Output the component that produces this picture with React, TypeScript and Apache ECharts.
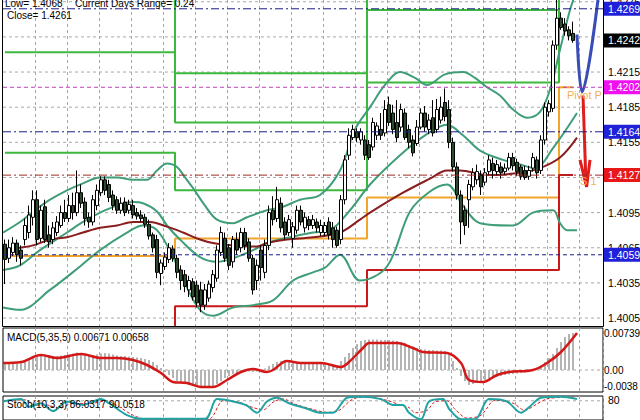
import { useEffect, useRef } from "react";
import * as echarts from "echarts";

// ---------- data ----------
const SLOTS = 150; // 30-minute slots on the x axis (last ones are empty, future)
const dayStart = [0, 43, 91, 139];
const pivotP = [1.4058, 1.4073, 1.4108, 1.4202];
const pivotR1 = [1.4146, 1.4114, 1.4206, 1.4336];
const pivotR2 = [1.4232, 1.4172, 1.4268, 1.4411];
const pivotR3 = [1.432, 1.4214, 1.4366, 1.4545];
const pivotS1 = [1.3972, 1.4015, 1.4046, 1.4127];

// [open, close, low, high]
const candles = [
  [1.4068, 1.4055, 1.4034, 1.4072], [1.4056, 1.4065, 1.4052, 1.4072], [1.4061, 1.4069, 1.4058, 1.4074],
  [1.4069, 1.4059, 1.4053, 1.4072], [1.4063, 1.4056, 1.405, 1.4067], [1.4072, 1.4084, 1.4067, 1.409],
  [1.4078, 1.4093, 1.4073, 1.4101], [1.4091, 1.4106, 1.4084, 1.4114], [1.4106, 1.4072, 1.4067, 1.4114],
  [1.4073, 1.4097, 1.407, 1.4101], [1.41, 1.4072, 1.4069, 1.4106], [1.4076, 1.407, 1.4065, 1.4084],
  [1.4072, 1.4082, 1.4068, 1.4087], [1.4078, 1.4087, 1.4075, 1.4092], [1.4084, 1.4095, 1.4082, 1.4101],
  [1.4095, 1.409, 1.4087, 1.4106], [1.409, 1.4101, 1.4087, 1.411], [1.4101, 1.4095, 1.4089, 1.4112],
  [1.4095, 1.4112, 1.4092, 1.4131], [1.4112, 1.4103, 1.4099, 1.4119], [1.4104, 1.409, 1.4084, 1.4108],
  [1.4091, 1.4087, 1.4082, 1.4095], [1.4087, 1.4106, 1.4084, 1.411], [1.4101, 1.4114, 1.4097, 1.4119],
  [1.4112, 1.4123, 1.4109, 1.4126], [1.4123, 1.4114, 1.411, 1.4126], [1.4119, 1.4108, 1.4104, 1.4123],
  [1.411, 1.4101, 1.4097, 1.4114], [1.4106, 1.4097, 1.4094, 1.4109], [1.4097, 1.4103, 1.4094, 1.4108],
  [1.4104, 1.4095, 1.4092, 1.4108], [1.4097, 1.4102, 1.4094, 1.4106], [1.4101, 1.4093, 1.409, 1.4106],
  [1.4095, 1.4092, 1.4089, 1.4099], [1.4093, 1.409, 1.4087, 1.4097], [1.4091, 1.4085, 1.4082, 1.4094],
  [1.4085, 1.4075, 1.4072, 1.4089], [1.4076, 1.4065, 1.4061, 1.4078], [1.4072, 1.4044, 1.4039, 1.4076],
  [1.4043, 1.4052, 1.4033, 1.4055], [1.4049, 1.4057, 1.4046, 1.4061], [1.4055, 1.4065, 1.4052, 1.4069],
  [1.4064, 1.4056, 1.4053, 1.4067],
  // day B
  [1.4056, 1.4044, 1.4039, 1.4059], [1.4046, 1.4037, 1.4029, 1.405], [1.4042, 1.4032, 1.4027, 1.4046],
  [1.4029, 1.4037, 1.4023, 1.4041], [1.4036, 1.4023, 1.402, 1.4039], [1.4033, 1.4018, 1.4014, 1.4037],
  [1.4029, 1.4016, 1.401, 1.4036], [1.4016, 1.4029, 1.4012, 1.4034], [1.4022, 1.4034, 1.4019, 1.4037],
  [1.4031, 1.4042, 1.4027, 1.4046], [1.4039, 1.4063, 1.4036, 1.4067], [1.4061, 1.4078, 1.4058, 1.4083],
  [1.4073, 1.4056, 1.4053, 1.4078], [1.4065, 1.405, 1.4046, 1.4068], [1.4053, 1.4072, 1.4048, 1.4075],
  [1.4072, 1.4063, 1.4059, 1.4078], [1.4065, 1.4078, 1.4061, 1.4082], [1.4078, 1.4067, 1.4063, 1.4082],
  [1.407, 1.4056, 1.4053, 1.4073], [1.4056, 1.4029, 1.4025, 1.4059], [1.4037, 1.405, 1.4029, 1.4055],
  [1.4063, 1.4048, 1.4037, 1.4067], [1.4044, 1.4067, 1.4039, 1.4072], [1.4067, 1.4095, 1.4063, 1.4101],
  [1.4097, 1.4089, 1.4084, 1.4109], [1.409, 1.4106, 1.4087, 1.4117], [1.4103, 1.4082, 1.4078, 1.4108],
  [1.4087, 1.4076, 1.4072, 1.4091], [1.4078, 1.4089, 1.4075, 1.4093], [1.4073, 1.4083, 1.4065, 1.4087],
  [1.408, 1.4097, 1.4077, 1.4101], [1.4097, 1.4087, 1.4084, 1.4101], [1.4082, 1.4091, 1.4078, 1.4095],
  [1.4089, 1.4084, 1.408, 1.4092], [1.4084, 1.4089, 1.4081, 1.4093], [1.4087, 1.4082, 1.4078, 1.409],
  [1.4078, 1.4084, 1.4075, 1.4089], [1.4078, 1.4084, 1.4075, 1.4087], [1.4087, 1.4076, 1.4072, 1.4091],
  [1.4082, 1.4072, 1.4065, 1.4087], [1.408, 1.4067, 1.4065, 1.4083], [1.4072, 1.4106, 1.4068, 1.411],
  [1.4106, 1.414, 1.4102, 1.4144], [1.4144, 1.4161, 1.414, 1.4167], [1.4159, 1.4166, 1.4157, 1.417],
  [1.4164, 1.4159, 1.4155, 1.4167], [1.4157, 1.4164, 1.4153, 1.4167], [1.4157, 1.4144, 1.414, 1.4161],
  // day C
  [1.4153, 1.4142, 1.414, 1.4157], [1.4151, 1.4172, 1.4148, 1.4176], [1.4161, 1.4169, 1.4157, 1.4172],
  [1.4166, 1.4161, 1.4157, 1.418], [1.4163, 1.4183, 1.416, 1.4191], [1.4187, 1.4172, 1.4169, 1.4194],
  [1.418, 1.4166, 1.4162, 1.4187], [1.4172, 1.4159, 1.4155, 1.4191], [1.4168, 1.4183, 1.4164, 1.4188],
  [1.418, 1.4159, 1.4157, 1.4184], [1.4166, 1.4155, 1.415, 1.417], [1.4157, 1.4146, 1.4143, 1.4161],
  [1.4154, 1.4168, 1.4152, 1.4174], [1.4168, 1.418, 1.4166, 1.4184], [1.418, 1.4168, 1.4164, 1.4186],
  [1.4166, 1.4174, 1.4162, 1.4179], [1.4176, 1.4163, 1.416, 1.4191], [1.4166, 1.4183, 1.4163, 1.4192],
  [1.4174, 1.4185, 1.4171, 1.4194], [1.4189, 1.4177, 1.4173, 1.4201], [1.4183, 1.4155, 1.415, 1.4191],
  [1.4155, 1.4134, 1.413, 1.4159], [1.4134, 1.411, 1.4106, 1.4138], [1.411, 1.4087, 1.4068, 1.4114],
  [1.4097, 1.4084, 1.4076, 1.4101], [1.4106, 1.4119, 1.4082, 1.4123], [1.4117, 1.4129, 1.4114, 1.4133],
  [1.4123, 1.413, 1.4119, 1.4136], [1.4127, 1.4117, 1.411, 1.4131], [1.4121, 1.4129, 1.4118, 1.4133],
  [1.413, 1.414, 1.4127, 1.4144], [1.4137, 1.4131, 1.4124, 1.4142], [1.413, 1.4136, 1.4127, 1.414],
  [1.4134, 1.4129, 1.4124, 1.4138], [1.413, 1.4133, 1.4127, 1.4137], [1.4133, 1.4142, 1.4131, 1.4146],
  [1.4142, 1.4135, 1.4131, 1.4146], [1.4138, 1.413, 1.4126, 1.4141], [1.4134, 1.4126, 1.4123, 1.4136],
  [1.4131, 1.4125, 1.4123, 1.4135], [1.4126, 1.4131, 1.4123, 1.4135], [1.4133, 1.4142, 1.413, 1.4146],
  [1.414, 1.4129, 1.4124, 1.4143], [1.4131, 1.4157, 1.4128, 1.4161], [1.4157, 1.4185, 1.4153, 1.4189],
  [1.4181, 1.4188, 1.4177, 1.4191], [1.4184, 1.4238, 1.4181, 1.4242], [1.4238, 1.4261, 1.4234, 1.4277],
  // day D
  [1.4261, 1.4253, 1.4251, 1.4266], [1.4256, 1.425, 1.4246, 1.4261], [1.4251, 1.4246, 1.4242, 1.4254],
  [1.4248, 1.4242, 1.424, 1.4258],
];

// moving average and bands, read at points [slot, price]
const maLine = [
  [-0.5, 1.4063], [3.75, 1.4065], [7, 1.4067], [11.25, 1.4072], [15.5, 1.4074], [19.5, 1.4078], [23.75, 1.4082],
  [28, 1.4084], [32, 1.4087], [36.25, 1.4087], [40.5, 1.4083], [44.5, 1.4078], [48.75, 1.4072], [52, 1.4069],
  [57, 1.4067], [63, 1.4066], [65.5, 1.4069], [70.5, 1.4072], [77, 1.4074], [83.75, 1.4078], [88.75, 1.4089],
  [91.25, 1.4095], [99.5, 1.4112], [106.25, 1.4124], [110.5, 1.4131], [113.75, 1.4131], [120.5, 1.4127],
  [128.75, 1.4129], [133.75, 1.4133], [138.75, 1.4142], [143, 1.4159],
];
const bandUpper = [
  [-0.5, 1.4078], [3.75, 1.4087], [7.5, 1.4097], [11.25, 1.4106], [15.5, 1.4114], [19.5, 1.412], [23.75, 1.4125],
  [28, 1.4125], [32, 1.4123], [35.5, 1.4123], [38, 1.4131], [40.5, 1.4137], [43, 1.4134], [45, 1.4125],
  [47, 1.4116], [50, 1.4101], [53, 1.4089], [57, 1.4086], [60.5, 1.4091], [65.5, 1.4097], [69.5, 1.41],
  [73.75, 1.4106], [78.75, 1.411], [83.75, 1.4131], [87.5, 1.4166], [91.25, 1.4185], [95, 1.4204],
  [98.75, 1.4215], [102.5, 1.421], [105.5, 1.4204], [110, 1.4213], [114.5, 1.4215], [117.5, 1.421],
  [120.5, 1.4202], [123.75, 1.4195], [127, 1.4183], [130.5, 1.4176], [133.75, 1.4181], [136.25, 1.42],
  [138.75, 1.4234], [141.25, 1.4268], [143, 1.4285],
];
const bandMiddle = [
  [-0.5, 1.4046], [3.75, 1.405], [8.75, 1.4063], [15.5, 1.4078], [19.5, 1.4087], [23.75, 1.4095], [28, 1.4101],
  [32, 1.4104], [34.5, 1.4103], [38, 1.4096], [40.5, 1.4084], [43.75, 1.4072], [48.75, 1.4057], [53, 1.4053],
  [57, 1.4056], [62, 1.4063], [65.5, 1.4069], [71.25, 1.4074], [77, 1.4078], [81.25, 1.408], [86.25, 1.4097],
  [91.25, 1.4119], [98.75, 1.4144], [105, 1.4161], [110.5, 1.417], [114.5, 1.4161], [118.75, 1.4148],
  [124.5, 1.414], [128.75, 1.4136], [132.5, 1.4133], [137, 1.415], [143, 1.418],
];
const bandLower = [
  [-0.5, 1.4014], [3.75, 1.4012], [11.25, 1.4029], [18.75, 1.4049], [23.75, 1.4063], [30.5, 1.4078],
  [34.5, 1.4084], [38, 1.408], [42, 1.4057], [45.5, 1.4031], [48.75, 1.4012], [52, 1.4007], [57, 1.4014],
  [62, 1.4016], [67, 1.402], [72, 1.4037], [77, 1.4044], [80, 1.4048], [83.75, 1.4059], [88.75, 1.4037],
  [95.5, 1.4049], [101.25, 1.4096], [106.25, 1.4113], [110.5, 1.4119], [114.5, 1.4101], [118.75, 1.4086],
  [127, 1.4084], [132, 1.4095], [137, 1.4097], [138.75, 1.4086], [140.5, 1.408], [143, 1.408],
];

// projection arrows drawn by the analyst: [slot, price]
const blueProjection = [[143, 1.4247], [144.25, 1.4198], [148.5, 1.4284]];
const redProjection = [[144.5, 1.4195], [145.25, 1.4119]];
const redArrowHead = [[143.75, 1.414], [145.4, 1.4117], [146.25, 1.414]];

// price grid, tick labels and level boxes
const priceTicks = [1.4005, 1.4035, 1.4065, 1.4095, 1.4125, 1.4155, 1.4185, 1.4215, 1.4245, 1.4275];
const levelValues = [1.4269, 1.4242, 1.4202, 1.4164, 1.4127, 1.4059];
const levelBoxColors = ["#2020d8", "#000000", "#ee10ee", "#2020d8", "#e81818", "#2020d8"];
const levelLineColors = ["#1c1c8a", "#000000", "#c040c0", "#1c1c8a", "#a02828", "#1c1c8a"];
const levelLineOpacity = [1, 0, 1, 1, 1, 1];
const levelDash = [[8, 3, 2, 3], [4, 4], [4, 3], [8, 3, 2, 3], [8, 3, 2, 3], [4, 3]];

// MACD(5,35,5)
const macdHist = [
  0.0012, 0.0013, 0.0012, 0.0013, 0.0014, 0.0016, 0.002,
  0.0024, 0.0028, 0.003, 0.0031, 0.003, 0.0028, 0.0028,
  0.0029, 0.003, 0.0031, 0.0033, 0.0035, 0.0034, 0.0032, 0.003, 0.003, 0.0031,
  0.0033, 0.0034, 0.0033, 0.0031, 0.0029, 0.0028, 0.0028, 0.0027,
  0.0026, 0.0025, 0.0024, 0.0022, 0.002, 0.0016, 0.001,
  0.0004, -0.0004, -0.001, -0.0016, -0.0022,
  -0.0026, -0.0028, -0.003, -0.0031, -0.0032, -0.0033, -0.0034, -0.0033, -0.0032, -0.0028,
  -0.0022, -0.0016, -0.0012, -0.0008, -0.0006, -0.0004, -0.0003, -0.0003,
  -0.0004, -0.0003, 0.0, 0.0003, 0.0008, 0.0012,
  0.0016, 0.0018, 0.0019, 0.0018, 0.0016, 0.0015,
  0.0014, 0.0013, 0.0013, 0.0012, 0.0012, 0.0012, 0.0011, 0.0011, 0.001, 0.001,
  0.0018, 0.0026, 0.0034, 0.0044, 0.0052,
  0.0058, 0.006, 0.0061, 0.0061, 0.0061, 0.006, 0.006, 0.006, 0.0059, 0.0058,
  0.0056, 0.0054, 0.005, 0.0047, 0.0044, 0.0042, 0.0041, 0.004, 0.004, 0.0039, 0.0039, 0.0038,
  0.003, 0.0018, 0.0004, -0.0012, -0.0022, -0.003,
  -0.0028, -0.0024, -0.0022, -0.002, -0.0018,
  -0.0016, -0.0014, -0.0012, -0.001, -0.0009, -0.0008, -0.0007, -0.0006, -0.0005, -0.0004,
  -0.0002, 0.0, 0.0008, 0.0016, 0.0024, 0.0032, 0.0044,
  0.0056, 0.0066, 0.0072, 0.0074,
];
const macdSignal = [
  [-0.5, 0.0014], [4, 0.0016], [9, 0.003], [13, 0.0024], [19, 0.0032], [24, 0.0024], [28, 0.0024], [32, 0.002],
  [35.5, 0.001], [39, -0.0006], [42, -0.0024], [45.5, -0.0026], [49, -0.0034], [52, -0.0034], [55.5, -0.002],
  [59, -0.0004], [62, 0.0002], [65.5, -0.0004], [67, 0.0], [70.5, 0.0018], [74, 0.0014], [79, 0.0014],
  [84, 0.0006], [86, 0.0016], [89.5, 0.0044], [91, 0.0054], [98, 0.0054], [102, 0.0044], [104.5, 0.0036],
  [110.5, 0.0034], [114, 0.0014], [116, -0.002], [119.5, -0.0024], [123, -0.001], [126, -0.0004], [132, 0.0],
  [135.5, 0.0014], [139, 0.0036], [143, 0.0074],
];
const macdScale = [0.00739, 0.0, -0.0038];
const macdScaleText = ["0.00739", "0.00", "-0.0038"];

// Stochastic(10,3,3)
const stochMain = [
  [-0.5, 77], [4, 87], [6, 55], [9, 70], [12, 37], [15.5, 77], [19.5, 63], [24, 87], [26, 70], [30.5, 20],
  [34, 5], [50, 5], [53, 87], [57, 77], [60.5, 60], [63, 30], [65.5, 77], [68, 93], [71, 70], [75.5, 47],
  [79, 30], [82, 30], [85.5, 93], [89, 97], [94, 87], [97, 63], [99.5, 63], [101, 30], [104, 3], [106, 77],
  [109.5, 87], [111, 47], [114, 3], [117.5, 3], [121, 87], [125.5, 77], [129, 30], [131, 53], [134, 93],
  [139, 97], [143, 87],
];
const stochSignal = [
  [-0.5, 80], [5, 84], [7.5, 62], [10.5, 62], [13.5, 48], [17, 70], [21, 68], [25.5, 80], [28, 60], [32, 20],
  [35, 5], [51, 5], [54.5, 80], [58.5, 74], [62, 52], [64.5, 42], [67, 74], [69.5, 88], [72.5, 66], [77, 44],
  [80.5, 32], [83.5, 40], [87, 88], [90.5, 95], [95.5, 82], [98.5, 64], [101, 52], [102.5, 30], [105.5, 40],
  [107.5, 76], [110.5, 80], [112.5, 45], [115.5, 8], [119, 20], [122.5, 82], [127, 70], [130, 40],
  [132.5, 62], [135.5, 88], [140, 94], [143, 90],
];
const stochLevel = 80;

// ---------- helpers ----------
const FONT = '"Liberation Sans", Arial, sans-serif';
const categories = Array.from({ length: SLOTS }, (_, i) => String(i));
const X0 = -0.5;
const X1 = SLOTS - 0.5;

function dayOf(i: number) {
  let d = 0;
  for (let k = 0; k < dayStart.length; k++) if (i >= dayStart[k]) d = k;
  return d;
}
function stepSeries(levels: number[]) {
  return candles.map((_, i) => levels[dayOf(i)]);
}
// a tick label is hidden when a price box sits right on it (as in the terminal)
function tickCovered(v: number) {
  return levelValues.some((l) => Math.abs(l - v) < 0.0004);
}
const gridSplit = {
  show: true,
  interval: (index: number) => index > 0 && index % 8 === 0,
  lineStyle: { color: "#a8a8a8", type: [3, 3] as any, width: 1 },
};

function hLine(
  value: number,
  xAxisIndex: number,
  yAxisIndex: number,
  line: { color: string; type: any; opacity: number },
  text: string,
  label: any,
  z: number
) {
  return {
    type: "line",
    xAxisIndex,
    yAxisIndex,
    data: [[X0, value], [X1, value]],
    symbol: "none",
    silent: true,
    z,
    lineStyle: { color: line.color, type: line.type, width: 1, opacity: line.opacity },
    endLabel: {
      show: text !== "",
      formatter: () => text,
      fontSize: 10.5,
      fontFamily: FONT,
      align: "left",
      ...label,
    },
  };
}

function makeOption(): any {
  const catAxis = (gridIndex: number) => ({
    type: "category",
    gridIndex,
    data: categories,
    boundaryGap: true,
    axisLine: { show: false },
    axisTick: { show: false },
    axisLabel: { show: false },
    splitLine: gridSplit,
  });
  const valAxis = (gridIndex: number) => ({
    type: "value",
    gridIndex,
    min: X0,
    max: X1,
    show: false,
    splitLine: { show: false },
  });
  const pivotLine = (levels: number[], color: string) => ({
    type: "line",
    xAxisIndex: 0,
    yAxisIndex: 0,
    data: stepSeries(levels),
    step: "middle",
    symbol: "none",
    lineStyle: { color, width: 2 },
    z: 3,
    silent: true,
  });
  const overlay = (data: number[][], color: string, width: number, z = 4) => ({
    type: "line",
    xAxisIndex: 1,
    yAxisIndex: 0,
    data,
    smooth: 0.35,
    symbol: "none",
    lineStyle: { color, width },
    z,
    silent: true,
  });

  const gridLines = priceTicks.map((v) =>
    hLine(
      v,
      1,
      0,
      { color: "#a8a8a8", type: [3, 3], opacity: 1 },
      tickCovered(v) ? "" : v.toFixed(4),
      { color: "#000", distance: 5 },
      1
    )
  );
  const levelLines = levelValues.map((v, k) =>
    hLine(
      v,
      1,
      0,
      { color: levelLineColors[k], type: levelDash[k], opacity: levelLineOpacity[k] },
      v.toFixed(4),
      { color: "#fff", backgroundColor: levelBoxColors[k], padding: [2, 4, 1, 4], distance: 1 },
      8
    )
  );
  const macdLines = macdScale.map((v, k) =>
    hLine(
      v,
      3,
      1,
      { color: "#a8a8a8", type: [3, 3], opacity: v === 0 ? 1 : 0 },
      macdScaleText[k],
      { color: "#000", distance: 1, fontSize: 10, offset: v < 0 ? [0, -3] : [0, 0] },
      2
    )
  );
  const stochLine = hLine(
    stochLevel,
    5,
    2,
    { color: "#a8a8a8", type: [3, 3], opacity: 1 },
    String(stochLevel),
    { color: "#000", distance: 5, offset: [0, -1] },
    2
  );

  return {
    animation: false,
    backgroundColor: "#ffffff",
    textStyle: { fontFamily: FONT },
    grid: [
      { left: 3, top: 0, width: 600, height: 326, show: false },
      { left: 3, top: 328, width: 600, height: 64, show: true, borderColor: "#000", borderWidth: 1, backgroundColor: "transparent" },
      { left: 3, top: 396, width: 600, height: 30, show: true, borderColor: "#000", borderWidth: 1, backgroundColor: "transparent" },
    ],
    xAxis: [catAxis(0), valAxis(0), catAxis(1), valAxis(1), catAxis(2), valAxis(2)],
    yAxis: [
      { type: "value", gridIndex: 0, min: 1.39982, max: 1.42765, show: false, splitLine: { show: false } },
      { type: "value", gridIndex: 1, min: -0.0044, max: 0.0084, show: false, splitLine: { show: false } },
      { type: "value", gridIndex: 2, min: 0, max: 100, show: false, splitLine: { show: false } },
    ],
    series: [
      ...gridLines,
      pivotLine(pivotR3, "#3cb93c"),
      pivotLine(pivotR2, "#3cb93c"),
      pivotLine(pivotR1, "#3cb93c"),
      pivotLine(pivotP, "#f2a52a"),
      pivotLine(pivotS1, "#c81818"),
      overlay(bandUpper, "#3f9e78", 2),
      overlay(bandMiddle, "#3f9e78", 2),
      overlay(bandLower, "#3f9e78", 2),
      overlay(maLine, "#8a1e1e", 2),
      {
        type: "candlestick",
        xAxisIndex: 0,
        yAxisIndex: 0,
        data: candles,
        barWidth: 3,
        z: 5,
        silent: true,
        itemStyle: {
          color: "#ffffff",
          color0: "#2c4a2c",
          borderColor: "#000000",
          borderColor0: "#000000",
          borderWidth: 1,
        },
      },
      overlay(blueProjection, "#3a4cb8", 3, 6),
      { ...overlay(redProjection, "#e01c1c", 3, 6), smooth: false },
      { ...overlay(redArrowHead, "#e01c1c", 3, 6), smooth: false },
      ...levelLines,
      // MACD
      {
        type: "bar",
        xAxisIndex: 2,
        yAxisIndex: 1,
        data: macdHist,
        barWidth: 2,
        itemStyle: { color: "#b4b4b4" },
        silent: true,
        z: 3,
      },
      ...macdLines,
      {
        type: "line",
        xAxisIndex: 3,
        yAxisIndex: 1,
        data: macdSignal,
        smooth: 0.35,
        symbol: "none",
        lineStyle: { color: "#d41818", width: 2.5 },
        z: 4,
        silent: true,
      },
      // Stochastic
      stochLine,
      {
        type: "line",
        xAxisIndex: 5,
        yAxisIndex: 2,
        data: stochSignal,
        smooth: 0.3,
        symbol: "none",
        lineStyle: { color: "#d42020", width: 1, type: [3, 2] },
        z: 3,
        silent: true,
      },
      {
        type: "line",
        xAxisIndex: 5,
        yAxisIndex: 2,
        data: stochMain,
        smooth: 0.3,
        symbol: "none",
        lineStyle: { color: "#22a3a3", width: 2 },
        z: 4,
        silent: true,
      },
    ],
    graphic: [
      // frame of the price pane (its top edge lies above the window)
      { type: "line", z: 30, shape: { x1: 2.5, y1: 0, x2: 2.5, y2: 326.5 }, style: { stroke: "#000", lineWidth: 1 } },
      { type: "line", z: 30, shape: { x1: 2.5, y1: 326.5, x2: 603.5, y2: 326.5 }, style: { stroke: "#000", lineWidth: 1 } },
      { type: "line", z: 30, shape: { x1: 603.5, y1: 0, x2: 603.5, y2: 326.5 }, style: { stroke: "#000", lineWidth: 1 } },
      { type: "text", x: 5, y: 3, z: 20, style: { text: "Low= 1.4068", fill: "#000", font: `10px ${FONT}`, verticalAlign: "middle" } },
      { type: "text", x: 75, y: 3, z: 20, style: { text: "Current Days Range= 0.24", fill: "#000", font: `10px ${FONT}`, verticalAlign: "middle" } },
      { type: "text", x: 7, y: 15, z: 20, style: { text: "Close= 1.4261", fill: "#000", font: `10px ${FONT}`, verticalAlign: "middle" } },
      { type: "text", x: 567, y: 95, z: 7, style: { text: "Pivot P", fill: "#f2b05a", font: `11px ${FONT}`, verticalAlign: "middle" } },
      { type: "text", x: 580, y: 181, z: 7, style: { text: "S 1", fill: "#f2b05a", font: `11px ${FONT}`, verticalAlign: "middle" } },
      { type: "text", x: 7, y: 337, z: 20, style: { text: "MACD(5,35,5) 0.00671 0.00658", fill: "#000", font: `10px ${FONT}`, verticalAlign: "middle" } },
      { type: "text", x: 7, y: 404, z: 20, style: { text: "Stoch(10,3,3) 86.0317 90.0518", fill: "#000", font: `10px ${FONT}`, verticalAlign: "middle" } },
    ],
  };
}

export default function App() {
  const ref = useRef<HTMLDivElement>(null);
  useEffect(() => {
    document.body.style.margin = "0";
    if (!ref.current) return;
    const chart = echarts.init(ref.current, undefined, { renderer: "svg" });
    chart.setOption(makeOption());
    return () => chart.dispose();
  }, []);
  return <div ref={ref} style={{ position: "absolute", left: 0, top: 0, width: 640, height: 420, background: "#fff" }} />;
}
